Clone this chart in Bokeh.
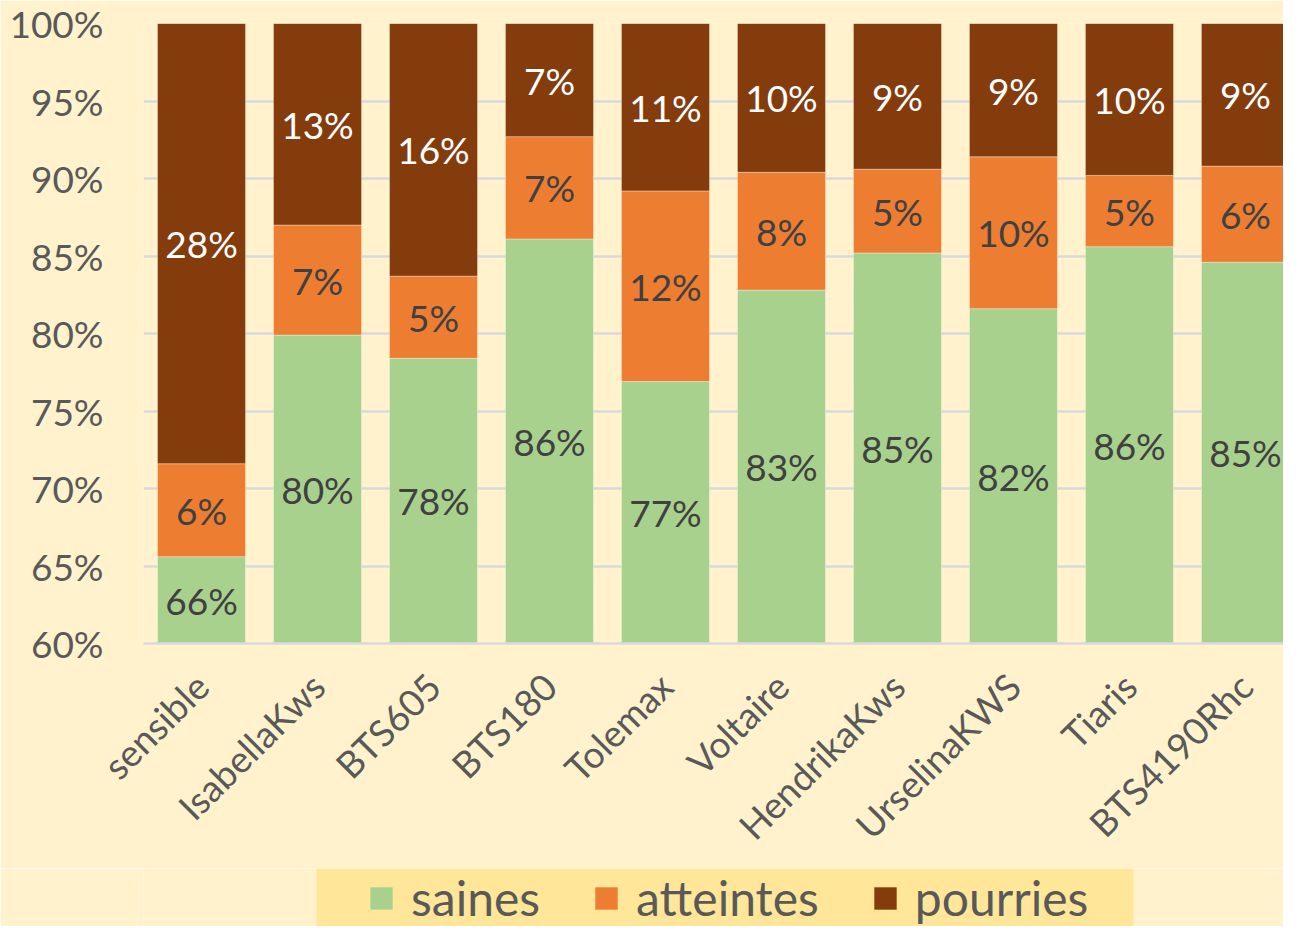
from bokeh.plotting import figure
from bokeh.layouts import column
from bokeh.models import (ColumnDataSource, Range1d, FixedTicker, PrintfTickFormatter, Legend,
                          LegendItem, BoxAnnotation)
from bokeh.embed import file_html
from bokeh.resources import INLINE
from bokeh.core.properties import value

varieties = ["sensible", "IsabellaKws", "BTS605", "BTS180", "Tolemax", "Voltaire",
             "HendrikaKws", "UrselinaKWS", "Tiaris", "BTS4190Rhc"]
saines = [65.6, 79.9, 78.4, 86.1, 76.9, 82.8, 85.2, 81.6, 85.6, 84.6]
atteintes = [6.0, 7.1, 5.3, 6.6, 12.3, 7.6, 5.4, 9.8, 4.6, 6.2]
pourries = [28.4, 13.0, 16.3, 7.3, 10.8, 9.6, 9.4, 8.6, 9.8, 9.2]
series_names = ["saines", "atteintes", "pourries"]
y_ticks = [60, 65, 70, 75, 80, 85, 90, 95, 100]

FONT = "Lato"
GREEN, ORANGE, BROWN = "#A9D18E", "#ED7D31", "#843C0C"
COLORS = [GREEN, ORANGE, BROWN]
BG, LEG_BG, GRID, TXT = "#FFF2CC", "#FFE699", "#D9D9D9", "#595959"

W, H_MAIN, H_LEG = 1283, 868, 58
FRAME_LEFT = 143

xs = [i + 0.5 for i in range(len(varieties))]
src = ColumnDataSource(dict(x=xs, saines=saines, atteintes=atteintes, pourries=pourries))

p = figure(width=W, height=H_MAIN, output_backend="svg", toolbar_location=None,
           x_range=Range1d(0, 9.828), y_range=Range1d(60, 100),
           min_border_left=FRAME_LEFT, min_border_right=0, min_border_top=23,
           min_border_bottom=H_MAIN - 643)
p.background_fill_color = BG
p.border_fill_color = BG
p.outline_line_color = None

p.vbar_stack(series_names, x="x", width=0.759, source=src,
             color=COLORS, line_color="white", line_alpha=0.35, line_width=1)

# data labels (centred in the visible part of each segment)
lx, ly, lt, lc = [], [], [], []
for i in range(len(varieties)):
    bottom = 0.0
    for vals, col in ((saines, "#404040"), (atteintes, "#404040"), (pourries, "white")):
        v = vals[i]
        top = bottom + v
        lx.append(xs[i])
        ly.append((max(bottom, 60) + top) / 2)
        lt.append(f"{round(v)}%")
        lc.append(col)
        bottom = top
lsrc = ColumnDataSource(dict(x=lx, y=ly, text=lt, color=lc))
p.text(x="x", y="y", text="text", text_color="color", source=lsrc,
       text_font=value(FONT), text_font_size="37px", text_align="center", text_baseline="middle")

# grid
p.xgrid.grid_line_color = None
p.ygrid.grid_line_color = GRID
p.ygrid.grid_line_width = 2.5
p.ygrid.ticker = FixedTicker(ticks=y_ticks)

# y axis
p.yaxis.ticker = FixedTicker(ticks=y_ticks)
p.yaxis.formatter = PrintfTickFormatter(format="%d%%")
p.yaxis.axis_line_color = None
p.yaxis.major_tick_line_color = None
p.yaxis.major_tick_out = 0
p.yaxis.major_tick_in = 0
p.yaxis.minor_tick_line_color = None
p.yaxis.major_label_text_font = FONT
p.yaxis.major_label_text_font_size = "37px"
p.yaxis.major_label_text_color = TXT
p.yaxis.major_label_standoff = 40

# x axis
p.xaxis.ticker = FixedTicker(ticks=xs)
p.xaxis.major_label_overrides = {x: n for x, n in zip(xs, varieties)}
p.xaxis.major_label_orientation = 0.785398
p.xaxis.axis_line_color = GRID
p.xaxis.axis_line_width = 2.5
p.xaxis.major_tick_line_color = None
p.xaxis.major_tick_out = 0
p.xaxis.major_tick_in = 0
p.xaxis.minor_tick_line_color = None
p.xaxis.major_label_text_font = FONT
p.xaxis.major_label_text_font_size = "37px"
p.xaxis.major_label_text_color = TXT
p.xaxis.major_label_standoff = 36

# legend strip (frame aligned with the main plot's frame: data units = figure pixels)
q = figure(width=W, height=H_LEG, output_backend="svg", toolbar_location=None,
           x_range=Range1d(FRAME_LEFT, W), y_range=Range1d(0, H_LEG),
           min_border=0, x_axis_location=None, y_axis_location=None)
q.background_fill_color = BG
q.border_fill_color = BG
q.outline_line_color = None
q.grid.grid_line_color = None
q.add_layout(BoxAnnotation(left=316, right=1133, fill_color=LEG_BG, fill_alpha=1.0, line_color=None))
leg_renderers = [q.vbar(x="x", top=n, width=0.755, source=src, fill_color=c, line_color=None, visible=False)
                 for n, c in zip(series_names, COLORS)]
legend = Legend(items=[LegendItem(label=n, renderers=[r]) for n, r in zip(series_names, leg_renderers)],
                location=(367 - FRAME_LEFT, 0), orientation="horizontal", click_policy="none")
legend.background_fill_alpha = 0.0
legend.border_line_color = None
legend.label_text_font = FONT
legend.label_text_font_size = "48px"
legend.label_text_color = TXT
legend.glyph_width = 28
legend.glyph_height = 28
legend.label_standoff = 16
legend.spacing = 52
legend.padding = 0
legend.margin = 0
q.add_layout(legend)

layout = column(p, q, spacing=0)
open("out.html", "w").write(file_html(layout, INLINE))
